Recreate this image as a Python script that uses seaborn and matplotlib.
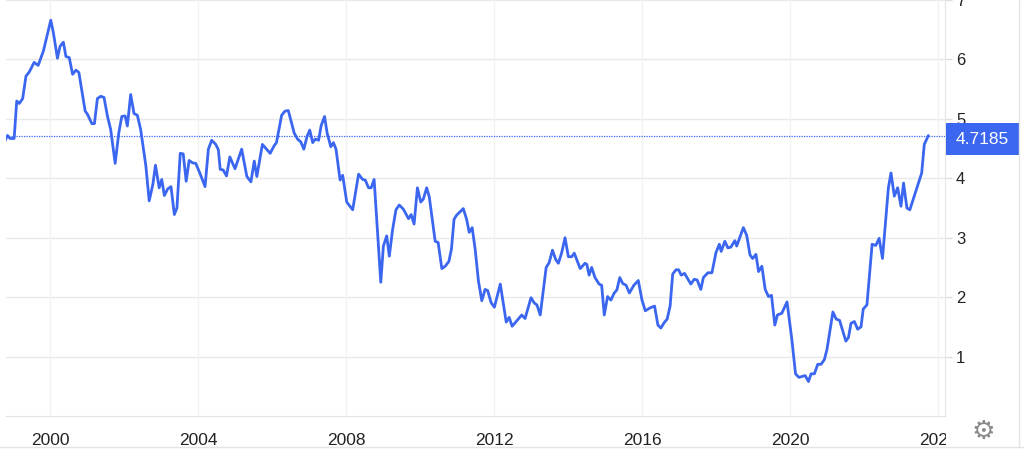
import matplotlib
matplotlib.use("Agg")
import matplotlib.pyplot as plt
import matplotlib.transforms as mtransforms
from matplotlib.patches import Rectangle
from matplotlib.lines import Line2D
import pandas as pd
import seaborn as sns

# decimal year of each reading
years = [
    1998.78, 1998.85, 1998.92, 1999.03, 1999.10, 1999.17, 1999.26, 1999.35, 1999.44, 1999.57,
    1999.68, 1999.82, 2000.02, 2000.09, 2000.20, 2000.27, 2000.36, 2000.43, 2000.52, 2000.61,
    2000.70, 2000.78, 2000.95, 2001.01, 2001.13, 2001.20, 2001.28, 2001.37, 2001.46, 2001.55,
    2001.64, 2001.76, 2001.86, 2001.94, 2002.03, 2002.09, 2002.18, 2002.27, 2002.36, 2002.45,
    2002.59, 2002.68, 2002.78, 2002.85, 2002.95, 2003.02, 2003.09, 2003.18, 2003.27, 2003.36,
    2003.43, 2003.52, 2003.60, 2003.68, 2003.76, 2003.85, 2003.94, 2004.06, 2004.19, 2004.28,
    2004.37, 2004.48, 2004.55, 2004.60, 2004.68, 2004.77, 2004.86, 2005.00, 2005.18, 2005.32,
    2005.43, 2005.52, 2005.59, 2005.74, 2005.95, 2006.06, 2006.12, 2006.26, 2006.35, 2006.44,
    2006.60, 2006.69, 2006.78, 2006.86, 2006.95, 2007.02, 2007.10, 2007.17, 2007.26, 2007.33,
    2007.42, 2007.49, 2007.59, 2007.66, 2007.73, 2007.84, 2007.91, 2008.02, 2008.18, 2008.34,
    2008.45, 2008.52, 2008.61, 2008.68, 2008.76, 2008.94, 2009.01, 2009.10, 2009.17, 2009.26,
    2009.35, 2009.44, 2009.55, 2009.69, 2009.76, 2009.84, 2009.93, 2010.02, 2010.09, 2010.18,
    2010.25, 2010.41, 2010.49, 2010.59, 2010.68, 2010.78, 2010.85, 2010.92, 2010.99, 2011.17,
    2011.26, 2011.33, 2011.41, 2011.49, 2011.58, 2011.67, 2011.76, 2011.83, 2011.92, 2012.01,
    2012.17, 2012.24, 2012.33, 2012.41, 2012.49, 2012.64, 2012.75, 2012.84, 2013.00, 2013.09,
    2013.16, 2013.25, 2013.41, 2013.49, 2013.58, 2013.67, 2013.74, 2013.83, 2013.92, 2014.01,
    2014.10, 2014.17, 2014.33, 2014.46, 2014.51, 2014.57, 2014.64, 2014.73, 2014.84, 2014.91,
    2014.98, 2015.07, 2015.16, 2015.25, 2015.32, 2015.40, 2015.48, 2015.57, 2015.66, 2015.78,
    2015.90, 2016.00, 2016.09, 2016.22, 2016.34, 2016.43, 2016.51, 2016.61, 2016.68, 2016.76,
    2016.83, 2016.92, 2016.99, 2017.06, 2017.15, 2017.32, 2017.41, 2017.49, 2017.59, 2017.66,
    2017.78, 2017.89, 2018.00, 2018.09, 2018.14, 2018.24, 2018.32, 2018.40, 2018.51, 2018.56,
    2018.74, 2018.83, 2018.92, 2018.99, 2019.08, 2019.15, 2019.24, 2019.33, 2019.42, 2019.50,
    2019.59, 2019.66, 2019.78, 2019.92, 2020.05, 2020.15, 2020.24, 2020.41, 2020.50, 2020.57,
    2020.66, 2020.75, 2020.84, 2020.93, 2021.00, 2021.16, 2021.25, 2021.34, 2021.51, 2021.58,
    2021.65, 2021.74, 2021.83, 2021.92, 2021.98, 2022.08, 2022.22, 2022.32, 2022.41, 2022.50,
    2022.66, 2022.73, 2022.82, 2022.91, 2023.00, 2023.07, 2023.16, 2023.24, 2023.56, 2023.63,
    2023.74,
]

yields = [
    4.63, 4.72, 4.67, 4.67, 5.30, 5.26, 5.34, 5.72, 5.79, 5.95,
    5.90, 6.14, 6.66, 6.45, 6.02, 6.22, 6.29, 6.05, 6.03, 5.75,
    5.82, 5.78, 5.13, 5.08, 4.92, 4.92, 5.34, 5.38, 5.36, 5.05,
    4.82, 4.25, 4.77, 5.04, 5.05, 4.88, 5.41, 5.09, 5.06, 4.82,
    4.21, 3.62, 3.90, 4.22, 3.84, 3.98, 3.71, 3.82, 3.86, 3.39,
    3.50, 4.42, 4.41, 3.95, 4.30, 4.26, 4.25, 4.07, 3.86, 4.49,
    4.64, 4.57, 4.48, 4.15, 4.14, 4.04, 4.36, 4.16, 4.49, 4.03,
    3.94, 4.29, 4.03, 4.57, 4.42, 4.55, 4.60, 5.06, 5.13, 5.14,
    4.76, 4.66, 4.61, 4.49, 4.71, 4.81, 4.60, 4.66, 4.64, 4.89,
    5.04, 4.76, 4.53, 4.60, 4.49, 3.97, 4.05, 3.60, 3.47, 4.07,
    3.98, 3.97, 3.84, 3.84, 3.98, 2.25, 2.86, 3.03, 2.69, 3.14,
    3.47, 3.55, 3.48, 3.32, 3.39, 3.23, 3.84, 3.60, 3.65, 3.84,
    3.69, 2.94, 2.92, 2.48, 2.52, 2.60, 2.81, 3.31, 3.38, 3.49,
    3.31, 3.09, 3.17, 2.81, 2.27, 1.94, 2.13, 2.11, 1.91, 1.83,
    2.22, 1.94, 1.58, 1.66, 1.51, 1.62, 1.70, 1.64, 1.99, 1.90,
    1.87, 1.70, 2.50, 2.58, 2.79, 2.63, 2.57, 2.75, 3.00, 2.68,
    2.68, 2.74, 2.48, 2.57, 2.55, 2.37, 2.50, 2.33, 2.22, 2.20,
    1.70, 2.01, 1.95, 2.07, 2.12, 2.33, 2.23, 2.20, 2.07, 2.20,
    2.28, 1.95, 1.77, 1.82, 1.85, 1.53, 1.48, 1.58, 1.63, 1.85,
    2.39, 2.46, 2.46, 2.37, 2.40, 2.22, 2.30, 2.29, 2.13, 2.33,
    2.41, 2.41, 2.75, 2.89, 2.77, 2.94, 2.83, 2.84, 2.95, 2.86,
    3.17, 3.04, 2.71, 2.65, 2.72, 2.43, 2.52, 2.13, 2.01, 2.03,
    1.53, 1.70, 1.73, 1.92, 1.29, 0.71, 0.65, 0.68, 0.58, 0.71,
    0.71, 0.87, 0.87, 0.95, 1.12, 1.75, 1.63, 1.61, 1.26, 1.32,
    1.56, 1.59, 1.46, 1.50, 1.80, 1.87, 2.89, 2.87, 2.99, 2.65,
    3.84, 4.09, 3.70, 3.84, 3.53, 3.92, 3.50, 3.47, 4.09, 4.57,
    4.7185,
]

x_ticks = [2000, 2004, 2008, 2012, 2016, 2020, 2024]
y_ticks = [1, 2, 3, 4, 5, 6, 7]
last_label = "4.7185"

LINE = "#3b66f0"
GRID = "#e9e9e9"
VGRID = "#f2f2f2"

df = pd.DataFrame({"year": years, "yield": yields})

sns.set_style("white")
plt.rcParams["font.family"] = ["Liberation Sans", "DejaVu Sans"]

fig = plt.figure(figsize=(10.24, 4.54), dpi=100)
ax = fig.add_axes([6 / 1024, 38 / 454, 939 / 1024, 416 / 454])

sns.lineplot(data=df, x="year", y="yield", ax=ax, color=LINE, linewidth=2.0,
             estimator=None, zorder=3)

ax.set_xlim(1998.81, 2024.19)
ax.set_ylim(0, 7)
ax.set_xlabel("")
ax.set_ylabel("")

ax.set_xticks(x_ticks)
ax.set_xticklabels([str(t) for t in x_ticks])
ax.set_yticks(y_ticks)
ax.yaxis.tick_right()
ax.tick_params(axis="y", length=5, width=1, color="#dddddd", pad=3,
               labelsize=12, labelcolor="#222222")
ax.tick_params(axis="x", length=0, pad=12, labelsize=12.5, labelcolor="#222222")

for t in y_ticks:
    ax.axhline(t, color=GRID, linewidth=1.0, zorder=1)
for t in x_ticks:
    ax.axvline(t, color=VGRID, linewidth=1.0, zorder=1)

for side in ["top", "left"]:
    ax.spines[side].set_visible(False)
ax.spines["bottom"].set_color("#e3e3e3")
ax.spines["right"].set_color("#e6e6e6")

# dotted marker line at the latest value
last = yields[-1]
ax.axhline(last, color=LINE, linestyle=(0, (1, 1)), linewidth=0.9, zorder=2)

blend = mtransforms.blended_transform_factory(ax.transAxes, ax.transData)
ax.add_patch(Rectangle((1.001, last - 0.33), 0.0777, 0.54, transform=blend,
                       facecolor=LINE, edgecolor="none", clip_on=False, zorder=5))
ax.text(1.0394, last - 0.06, last_label, transform=blend, ha="center", va="center",
        color="white", fontsize=12.5, zorder=6)

# the last year label is cut off by the right axis panel, as in the widget
fig.patches.append(Rectangle((946 / 1024, 8 / 454), 72 / 1024, 29 / 454,
                             transform=fig.transFigure, facecolor="white",
                             edgecolor="none", zorder=2))
fig.lines.append(Line2D([0, 1], [7 / 454, 7 / 454], transform=fig.transFigure,
                        color="#e4e4e4", linewidth=1.0, zorder=3))
fig.lines.append(Line2D([1019 / 1024, 1019 / 1024], [7 / 454, 1], transform=fig.transFigure,
                        color="#e4e4e4", linewidth=1.0, zorder=3))
fig.text(983 / 1024, 1 - 432 / 454, "\u2699", family=["DejaVu Sans"], fontsize=19,
         color="#8a8a8a", ha="center", va="center", zorder=4)

fig.savefig("out.png", dpi=100)
